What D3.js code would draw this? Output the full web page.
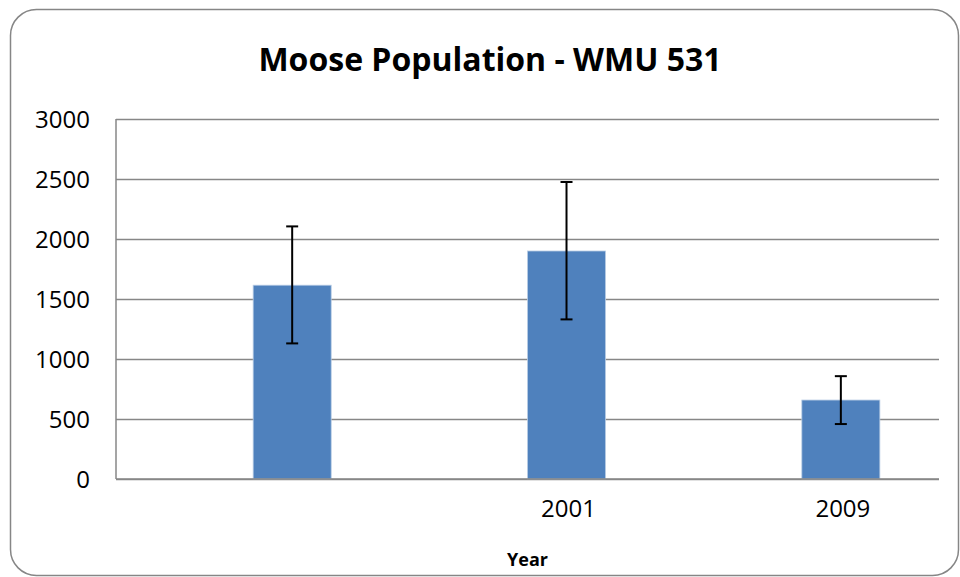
<!DOCTYPE html>
<html>
<head>
<meta charset="utf-8">
<script src="https://cdn.jsdelivr.net/npm/d3@7"></script>
<style>
  html, body { margin: 0; padding: 0; background: #fff; }
  svg { display: block; }
</style>
</head>
<body>
<script>
// chart values
var years = ["", "2001", "2009"];
var seriesNames = ["blank", "Population"];   // first series is empty, bars sit in the right slot
var population = [1615, 1900, 658];
var lowerBound = [1130, 1330, 458];
var upperBound = [2105, 2475, 857];
var yTicks = [0, 500, 1000, 1500, 2000, 2500, 3000];

var width = 960,
    height = 577,
    plotLeft = 116, plotRight = 939,
    plotTop = 119, plotBottom = 479;

var svg = d3.select("body").append("svg")
    .attr("width", width)
    .attr("height", height);

// outer frame
svg.append("rect")
    .attr("x", 10.5)
    .attr("y", 9.5)
    .attr("width", 948)
    .attr("height", 566)
    .attr("rx", 26)
    .attr("fill", "#fff")
    .attr("stroke", "#868686")
    .attr("stroke-width", 1.5);

var x = d3.scaleBand().domain(years).range([plotLeft, plotRight]);
var sub = d3.scaleBand().domain(seriesNames).range([0, x.bandwidth()])
    .paddingInner(0).paddingOuter(0.758);
var y = d3.scaleLinear().domain([0, 3000]).range([plotBottom, plotTop]);

function barCenter(yr) {
  return x(yr) + sub("Population") + sub.bandwidth() / 2;
}

// gridlines + y labels
var yAxis = svg.append("g")
    .attr("transform", "translate(" + plotLeft + ",0)")
    .call(d3.axisLeft(y).tickValues(yTicks).tickSize(-(plotRight - plotLeft)).tickPadding(26).tickFormat(d3.format("d")));
yAxis.select(".domain").remove();
yAxis.selectAll(".tick line")
    .attr("stroke", "#878787")
    .attr("stroke-width", 1.5);
yAxis.selectAll(".tick text")
    .attr("font-family", "Open Sans")
    .attr("font-size", "24px")
    .attr("fill", "#000")
    .attr("dy", "0.36em");

// left axis line
svg.append("line")
    .attr("x1", plotLeft).attr("x2", plotLeft)
    .attr("y1", plotTop).attr("y2", plotBottom)
    .attr("stroke", "#878787")
    .attr("stroke-width", 1.5);

// bars
svg.selectAll(".bar")
    .data(years)
    .enter().append("rect")
    .attr("class", "bar")
    .attr("x", function(d) { return x(d) + sub("Population"); })
    .attr("width", sub.bandwidth())
    .attr("y", function(d, i) { return y(population[i]); })
    .attr("height", function(d, i) { return y(0) - y(population[i]); })
    .attr("fill", "#4f81bd")
    .attr("stroke", "#b8cce4")
    .attr("stroke-width", 0.8);

// bottom axis line
svg.append("line")
    .attr("x1", plotLeft).attr("x2", plotRight)
    .attr("y1", plotBottom).attr("y2", plotBottom)
    .attr("stroke", "#878787")
    .attr("stroke-width", 1.5);

// error bars
var err = svg.selectAll(".err")
    .data(years)
    .enter().append("g")
    .attr("class", "err")
    .attr("stroke", "#000")
    .attr("stroke-width", 2);
err.append("line")
    .attr("x1", barCenter).attr("x2", barCenter)
    .attr("y1", function(d, i) { return y(upperBound[i]); })
    .attr("y2", function(d, i) { return y(lowerBound[i]); });
err.append("line")
    .attr("x1", function(d) { return barCenter(d) - 6; })
    .attr("x2", function(d) { return barCenter(d) + 6; })
    .attr("y1", function(d, i) { return y(upperBound[i]); })
    .attr("y2", function(d, i) { return y(upperBound[i]); });
err.append("line")
    .attr("x1", function(d) { return barCenter(d) - 6; })
    .attr("x2", function(d) { return barCenter(d) + 6; })
    .attr("y1", function(d, i) { return y(lowerBound[i]); })
    .attr("y2", function(d, i) { return y(lowerBound[i]); });

// x labels under the bars
var xAxis = svg.append("g")
    .attr("transform", "translate(" + (sub("Population") + sub.bandwidth() / 2 - x.bandwidth() / 2 + 2) + "," + plotBottom + ")")
    .call(d3.axisBottom(x).tickSize(0).tickPadding(21));
xAxis.select(".domain").remove();
xAxis.selectAll(".tick text")
    .attr("font-family", "Open Sans")
    .attr("font-size", "24px")
    .attr("fill", "#000");

// title
svg.append("text")
    .attr("x", 490)
    .attr("y", 71)
    .attr("text-anchor", "middle")
    .attr("font-family", "Open Sans")
    .attr("font-weight", "bold")
    .attr("font-size", "32px")
    .attr("fill", "#000")
    .text("Moose Population - WMU 531");

// axis title
svg.append("text")
    .attr("x", (plotLeft + plotRight) / 2)
    .attr("y", 566)
    .attr("text-anchor", "middle")
    .attr("font-family", "Open Sans")
    .attr("font-weight", "bold")
    .attr("font-size", "18px")
    .attr("fill", "#000")
    .text("Year");
</script>
</body>
</html>
